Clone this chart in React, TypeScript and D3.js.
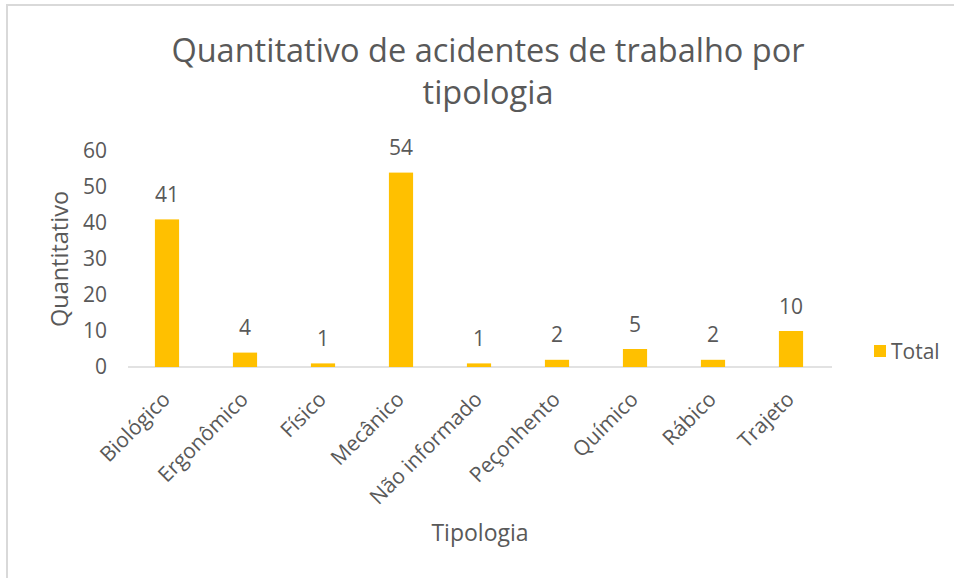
import React from "react";
import * as d3 from "d3";

const categories: string[] = [
  "Biológico",
  "Ergonômico",
  "Físico",
  "Mecânico",
  "Não informado",
  "Peçonhento",
  "Químico",
  "Rábico",
  "Trajeto",
];
const totals: number[] = [41, 4, 1, 54, 1, 2, 5, 2, 10];
const yTicks: number[] = [0, 10, 20, 30, 40, 50, 60];
const titleLines: string[] = ["Quantitativo de acidentes de trabalho por", "tipologia"];
const seriesName = "Total";
const xTitle = "Tipologia";
const yTitle = "Quantitativo";

const W = 954;
const H = 578;
const FONT = "'Open Sans', sans-serif";
const TEXT = "#595959";
const BAR = "#FFC000";
const GRID = "#D9D9D9";

export default function App() {
  const x = d3.scaleBand<string>().domain(categories).range([128, 830]).padding(0);
  const y = d3.scaleLinear().domain([0, 60]).range([367, 151]);
  const barW = x.bandwidth() * 0.31;

  return (
    <svg
      width={W}
      height={H}
      style={{ position: "absolute", left: 0, top: 0, background: "#fff" }}
      fontFamily={FONT}
    >
      <rect x={7} y={5} width={2000} height={2000} fill="#fff" stroke={GRID} strokeWidth={2} />
      {titleLines.map((t, i) => (
        <text key={i} x={488} y={62 + i * 42} textAnchor="middle" fontSize={32.5} fill={TEXT}>
          {t}
        </text>
      ))}
      {yTicks.map((t) => (
        <text key={t} x={107} y={y(t)} dy="0.35em" textAnchor="end" fontSize={21} fill={TEXT}>
          {t}
        </text>
      ))}
      <line x1={128} x2={832} y1={y(0)} y2={y(0)} stroke={GRID} strokeWidth={1.3} />
      {categories.map((c, i) => {
        const cx = (x(c) as number) + x.bandwidth() / 2;
        return (
          <g key={c}>
            <rect x={cx - barW / 2} y={y(totals[i])} width={barW} height={y(0) - y(totals[i])} fill={BAR} />
            <text x={cx} y={y(totals[i]) - 17.5} textAnchor="middle" fontSize={21} fill={TEXT}>
              {totals[i]}
            </text>
            <text
              transform={`translate(${cx - 6},${390}) rotate(-45)`}
              textAnchor="end"
              dy="0.71em"
              fontSize={21}
              fill={TEXT}
            >
              {c}
            </text>
          </g>
        );
      })}
      <text
        transform={`translate(68,259) rotate(-90)`}
        textAnchor="middle"
        fontSize={23.5}
        fill={TEXT}
      >
        {yTitle}
      </text>
      <text x={480} y={541} textAnchor="middle" fontSize={23} fill={TEXT}>
        {xTitle}
      </text>
      <rect x={874} y={345} width={12} height={12} fill={BAR} />
      <text x={891} y={359} fontSize={21} fill={TEXT}>
        {seriesName}
      </text>
    </svg>
  );
}
